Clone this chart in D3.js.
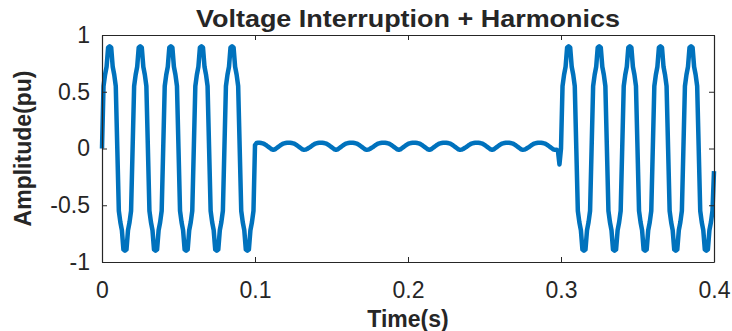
<!DOCTYPE html>
<html>
<head>
<meta charset="UTF-8">
<title>Voltage Interruption + Harmonics</title>
<script src="https://d3js.org/d3.v7.min.js"></script>
<style>
  body { margin: 0; background: #fff; }
  text { font-family: "Liberation Sans", Arial, sans-serif; fill: #262626; }
</style>
</head>
<body>
<div id="chart"></div>
<script>
// sampling step of the waveform (s)
var dt = 0.001;

// 0 - 0.1 s : five cycles of the distorted supply voltage
var preFault = [
  0, 0.55, 0.65, 0.72, 0.89, 0.90, 0.89, 0.72, 0.65, 0.55, 0, -0.55, -0.65, -0.72, -0.89, -0.90, -0.89, -0.72, -0.65, -0.55,
  0, 0.55, 0.65, 0.72, 0.89, 0.90, 0.89, 0.72, 0.65, 0.55, 0, -0.55, -0.65, -0.72, -0.89, -0.90, -0.89, -0.72, -0.65, -0.55,
  0, 0.55, 0.65, 0.72, 0.89, 0.90, 0.89, 0.72, 0.65, 0.55, 0, -0.55, -0.65, -0.72, -0.89, -0.90, -0.89, -0.72, -0.65, -0.55,
  0, 0.55, 0.65, 0.72, 0.89, 0.90, 0.89, 0.72, 0.65, 0.55, 0, -0.55, -0.65, -0.72, -0.89, -0.90, -0.89, -0.72, -0.65, -0.55,
  0, 0.55, 0.65, 0.72, 0.89, 0.90, 0.89, 0.72, 0.65, 0.55, 0, -0.55, -0.65, -0.72, -0.89, -0.90, -0.89, -0.72, -0.65, -0.55
];

// 0.1 - 0.3 s : interruption, small residual ripple
var interruption = [
  0.03, 0.048,
  0.05, 0.05, 0.048, 0.045, 0.04, 0.032, 0.022, 0.012, 0.002, -0.008, -0.012, -0.008, 0.002, 0.012, 0.022, 0.032, 0.04, 0.045, 0.048, 0.05,
  0.05, 0.05, 0.048, 0.045, 0.04, 0.032, 0.022, 0.012, 0.002, -0.008, -0.012, -0.01, -0.004, 0.004, 0.012, 0.022, 0.032, 0.04, 0.045, 0.048, 0.05,
  0.05, 0.05, 0.048, 0.045, 0.04, 0.032, 0.022, 0.012, 0.002, -0.008, -0.012, -0.008, 0.002, 0.012, 0.022, 0.032, 0.04, 0.045, 0.048, 0.05,
  0.05, 0.05, 0.048, 0.045, 0.04, 0.032, 0.022, 0.012, 0.002, -0.008, -0.012, -0.01, -0.004, 0.004, 0.012, 0.022, 0.032, 0.04, 0.045, 0.048, 0.05,
  0.05, 0.05, 0.048, 0.045, 0.04, 0.032, 0.022, 0.012, 0.002, -0.008, -0.012, -0.008, 0.002, 0.012, 0.022, 0.032, 0.04, 0.045, 0.048, 0.05,
  0.05, 0.05, 0.048, 0.045, 0.04, 0.032, 0.022, 0.012, 0.002, -0.008, -0.012, -0.008, 0.002, 0.012, 0.022, 0.032, 0.04, 0.045, 0.048, 0.05,
  0.05, 0.05, 0.048, 0.045, 0.04, 0.032, 0.022, 0.012, 0.002, -0.008, -0.012, -0.01, -0.004, 0.004, 0.012, 0.022, 0.032, 0.04, 0.045, 0.048, 0.05,
  0.05, 0.05, 0.048, 0.045, 0.04, 0.032, 0.022, 0.012, 0.002, -0.008, -0.012, -0.008, 0.002, 0.012, 0.022, 0.032, 0.04, 0.045, 0.048, 0.05,
  0.05, 0.05, 0.048, 0.045, 0.04, 0.032, 0.022, 0.012, 0.002, -0.008, -0.012, -0.01, -0.004, 0.004, 0.012, 0.022, 0.032, 0.04, 0.045, 0.048, 0.05,
  0.05, 0.05, 0.048, 0.045, 0.04, 0.032, 0.022, 0.012, 0.002, -0.008, -0.012, -0.01, -0.02, -0.14
];

// 0.3 - 0.4 s : supply restored
var postFault = [
  0, 0.55, 0.65, 0.72, 0.89, 0.90, 0.89, 0.72, 0.65, 0.55, 0, -0.55, -0.65, -0.72, -0.89, -0.90, -0.89, -0.72, -0.65, -0.55,
  0, 0.55, 0.65, 0.72, 0.89, 0.90, 0.89, 0.72, 0.65, 0.55, 0, -0.55, -0.65, -0.72, -0.89, -0.90, -0.89, -0.72, -0.65, -0.55,
  0, 0.55, 0.65, 0.72, 0.89, 0.90, 0.89, 0.72, 0.65, 0.55, 0, -0.55, -0.65, -0.72, -0.89, -0.90, -0.89, -0.72, -0.65, -0.55,
  0, 0.55, 0.65, 0.72, 0.89, 0.90, 0.89, 0.72, 0.65, 0.55, 0, -0.55, -0.65, -0.72, -0.89, -0.90, -0.89, -0.72, -0.65, -0.55,
  0, 0.55, 0.65, 0.72, 0.89, 0.90, 0.89, 0.72, 0.65, 0.55, 0, -0.55, -0.65, -0.72, -0.89, -0.90, -0.89, -0.72, -0.65, -0.55,
  -0.2
];

var xTicks = [0, 0.1, 0.2, 0.3, 0.4];
var yTicks = [-1, -0.5, 0, 0.5, 1];
var titleText = "Voltage Interruption + Harmonics";
var xLabel = "Time(s)";
var yLabel = "Amplitude(pu)";

var width = 732, height = 331;
var margin = { top: 35, right: 18, bottom: 69, left: 102 };
var w = width - margin.left - margin.right;
var h = height - margin.top - margin.bottom;

var amplitude = preFault.concat(interruption, postFault);
var data = amplitude.map(function (v, i) { return { t: i * dt, v: v }; });

var svg = d3.select("#chart").append("svg")
  .attr("width", width)
  .attr("height", height);

var g = svg.append("g")
  .attr("transform", "translate(" + margin.left + "," + margin.top + ")");

var x = d3.scaleLinear().domain([0, 0.4]).range([0, w]);
var y = d3.scaleLinear().domain([-1, 1]).range([h, 0]);

function fmt(d) { return String(d); }

// waveform
var line = d3.line()
  .x(function (d) { return x(d.t); })
  .y(function (d) { return y(d.v); });

g.append("path")
  .datum(data)
  .attr("fill", "none")
  .attr("stroke", "#0072BD")
  .attr("stroke-width", 4.5)
  .attr("stroke-linejoin", "round")
  .attr("d", line);

// axes, MATLAB style: ticks inside, box on
var tickLen = 5;
var bottomAxis = d3.axisBottom(x).tickValues(xTicks).tickFormat(fmt).tickSizeInner(-tickLen).tickSizeOuter(0).tickPadding(20);
var topAxis = d3.axisTop(x).tickValues(xTicks).tickFormat("").tickSizeInner(-tickLen).tickSizeOuter(0);
var leftAxis = d3.axisLeft(y).tickValues(yTicks).tickFormat(fmt).tickSizeInner(-tickLen).tickSizeOuter(0).tickPadding(12);
var rightAxis = d3.axisRight(y).tickValues(yTicks).tickFormat("").tickSizeInner(-tickLen).tickSizeOuter(0);

var axes = [
  g.append("g").attr("transform", "translate(0," + h + ")").call(bottomAxis),
  g.append("g").call(topAxis),
  g.append("g").call(leftAxis),
  g.append("g").attr("transform", "translate(" + w + ",0)").call(rightAxis)
];
axes.forEach(function (a) {
  a.select(".domain").attr("stroke", "#262626").attr("stroke-width", 1.2);
  a.selectAll(".tick line").attr("stroke", "#262626").attr("stroke-width", 1);
  a.selectAll(".tick text").attr("font-size", 23).attr("fill", "#262626")
    .attr("font-family", "'Liberation Sans', Arial, sans-serif");
});

// title and labels
svg.append("text")
  .attr("x", margin.left + w / 2)
  .attr("y", 27)
  .attr("text-anchor", "middle")
  .attr("font-size", 24)
  .attr("font-weight", "bold")
  .attr("textLength", 424)
  .attr("lengthAdjust", "spacingAndGlyphs")
  .text(titleText);

svg.append("text")
  .attr("x", margin.left + w / 2)
  .attr("y", 327)
  .attr("text-anchor", "middle")
  .attr("font-size", 23)
  .attr("font-weight", "bold")
  .text(xLabel);

svg.append("text")
  .attr("transform", "translate(31," + (margin.top + h / 2) + ") rotate(-90)")
  .attr("text-anchor", "middle")
  .attr("font-size", 23)
  .attr("font-weight", "bold")
  .text(yLabel);
</script>
</body>
</html>
